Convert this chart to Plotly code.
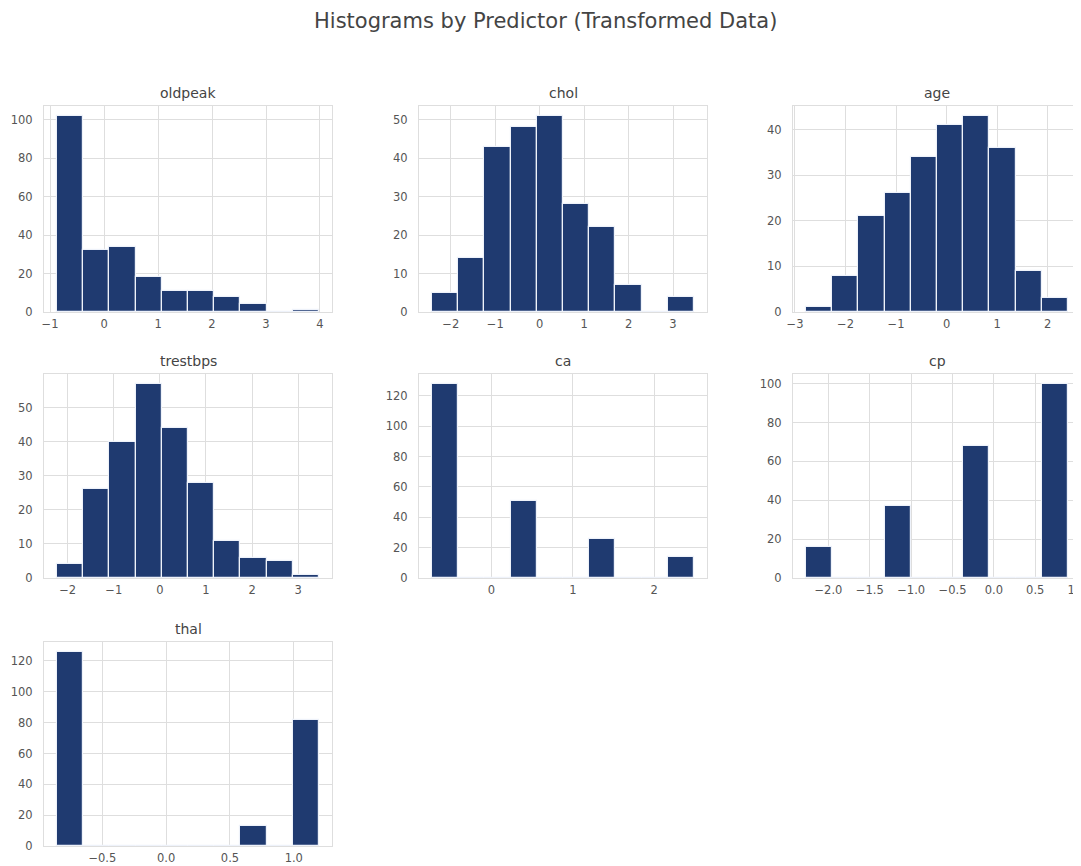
import numpy as np
import plotly.graph_objects as go
from plotly.subplots import make_subplots

# ---------------- data ----------------
predictors = ["oldpeak", "chol", "age", "trestbps", "ca", "cp", "thal"]

# histogram counts, 10 equal-width bins each
oldpeak_counts = [102, 32, 34, 18, 11, 11, 8, 4, 0, 1]
chol_counts = [5, 14, 43, 48, 51, 28, 22, 7, 0, 4]
age_counts = [1, 8, 21, 26, 34, 41, 43, 36, 9, 3]
trestbps_counts = [4, 26, 40, 57, 44, 28, 11, 6, 5, 1]
ca_counts = [128, 0, 0, 51, 0, 0, 26, 0, 0, 14]
cp_counts = [16, 0, 0, 37, 0, 0, 68, 0, 0, 100]
thal_counts = [126, 0, 0, 0, 0, 0, 0, 13, 0, 82]

# data minimum / maximum (outer bin edges)
oldpeak_range = [-0.87, 3.98]
chol_range = [-2.42, 3.47]
age_range = [-2.78, 2.40]
trestbps_range = [-2.23, 3.45]
ca_range = [-0.73, 2.487]
cp_range = [-2.27, 0.895]
thal_range = [-0.855, 1.197]

counts = {
    "oldpeak": oldpeak_counts, "chol": chol_counts, "age": age_counts,
    "trestbps": trestbps_counts, "ca": ca_counts, "cp": cp_counts, "thal": thal_counts,
}
ranges = {
    "oldpeak": oldpeak_range, "chol": chol_range, "age": age_range,
    "trestbps": trestbps_range, "ca": ca_range, "cp": cp_range, "thal": thal_range,
}
y_dtick = {"oldpeak": 20, "chol": 10, "age": 10, "trestbps": 10, "ca": 20, "cp": 20, "thal": 20}
x_ticks = {
    "oldpeak": [-1, 0, 1, 2, 3, 4],
    "chol": [-2, -1, 0, 1, 2, 3],
    "age": [-3, -2, -1, 0, 1, 2],
    "trestbps": [-2, -1, 0, 1, 2, 3],
    "ca": [0, 1, 2],
    "cp": [-2.0, -1.5, -1.0, -0.5, 0.0, 0.5, 1.0],
    "thal": [-0.5, 0.0, 0.5, 1.0],
}
x_fmt = {"cp": ".1f", "thal": ".1f"}

title_text = "Histograms by Predictor (Transformed Data)"

# ---------------- layout geometry ----------------
# the page body adds an 8px margin, so the figure is shifted by OFF
OFF = 8
W, H = 1081 - OFF, 866 - OFF
col_px = [(44, 332), (419, 707), (793, 1081)]
row_px = [(106, 312), (374, 578), (642, 846)]

BAR = "#1f3a70"
GRID = "#dedede"
TXT = "#555555"
FONT = "DejaVu Sans"

fig = make_subplots(rows=3, cols=3)

for i, name in enumerate(predictors):
    r, c = divmod(i, 3)
    lo, hi = ranges[name]
    edges = np.linspace(lo, hi, len(counts[name]) + 1)
    centers = (edges[:-1] + edges[1:]) / 2
    width = edges[1] - edges[0]
    fig.add_trace(
        go.Bar(
            x=centers, y=counts[name], width=width,
            marker=dict(color=BAR, line=dict(color="#eef2fa", width=1.2)),
            showlegend=False, hoverinfo="x+y",
        ),
        row=r + 1, col=c + 1,
    )
    span = hi - lo
    xr = [lo - 0.05 * span, hi + 0.05 * span]
    yr = [0, max(counts[name]) * 1.05]
    x0, x1 = [v - OFF for v in col_px[c]]
    y0, y1 = [v - OFF for v in row_px[r]]
    fig.update_xaxes(
        domain=[x0 / W, min(x1 / W, 1.0)], range=xr, tickvals=x_ticks[name],
        tickformat=x_fmt.get(name, "d"),
        showgrid=True, gridcolor=GRID, gridwidth=1,
        showline=True, mirror=True, linecolor=GRID, linewidth=1,
        zeroline=False, ticks="", ticklabelstandoff=1,
        ticklabeloverflow="allow",
        tickfont=dict(family=FONT, size=11.5, color=TXT),
        automargin=False, fixedrange=True,
        row=r + 1, col=c + 1,
    )
    fig.update_yaxes(
        domain=[1 - y1 / H, 1 - y0 / H], range=yr, dtick=y_dtick[name], tick0=0,
        showgrid=True, gridcolor=GRID, gridwidth=1,
        showline=True, mirror=True, linecolor=GRID, linewidth=1,
        zeroline=False, ticks="", ticklabelstandoff=8,
        tickfont=dict(family=FONT, size=11.5, color=TXT),
        automargin=False, fixedrange=True,
        row=r + 1, col=c + 1,
    )
    fig.add_annotation(
        text=name, x=(x0 + x1) / 2 / W, y=1 - (y0 - 3) / H,
        xref="paper", yref="paper", xanchor="center", yanchor="bottom",
        showarrow=False, font=dict(family=FONT, size=14, color="#444444"),
    )

# hide unused subplot axes (row 3, cols 2-3)
for (r, c) in [(3, 2), (3, 3)]:
    fig.update_xaxes(visible=False, row=r, col=c)
    fig.update_yaxes(visible=False, row=r, col=c)

fig.add_annotation(
    text=title_text, x=(545 - OFF) / W, y=1 - (21 - OFF) / H, xref="paper", yref="paper",
    xanchor="center", yanchor="middle", showarrow=False, borderpad=0,
    font=dict(family=FONT, size=21, color="#444444"),
)

fig.update_layout(
    width=W, height=H,
    margin=dict(l=0, r=0, t=0, b=0),
    paper_bgcolor="white", plot_bgcolor="white",
    bargap=0,
    font=dict(family=FONT, color=TXT),
)

fig.write_html("out.html")
